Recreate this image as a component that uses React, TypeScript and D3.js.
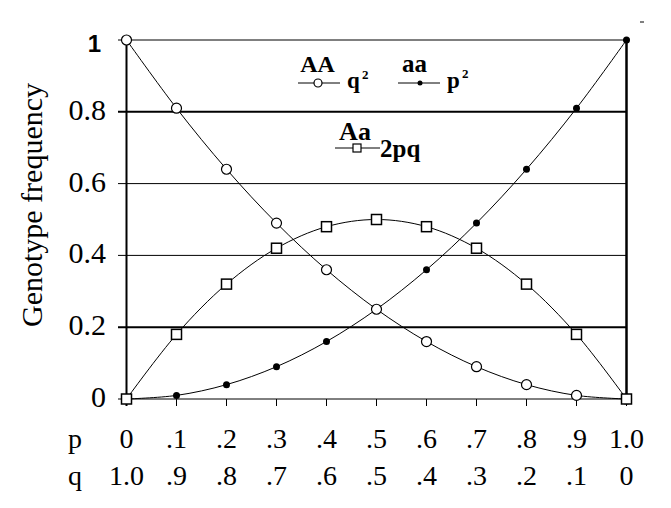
import React from "react";
import * as d3 from "d3";

const pValues = [0, 0.1, 0.2, 0.3, 0.4, 0.5, 0.6, 0.7, 0.8, 0.9, 1.0];
const pLabels = ["0", ".1", ".2", ".3", ".4", ".5", ".6", ".7", ".8", ".9", "1.0"];
const qLabels = ["1.0", ".9", ".8", ".7", ".6", ".5", ".4", ".3", ".2", ".1", "0"];
const AA = [1.0, 0.81, 0.64, 0.49, 0.36, 0.25, 0.16, 0.09, 0.04, 0.01, 0.0];
const aa = [0.0, 0.01, 0.04, 0.09, 0.16, 0.25, 0.36, 0.49, 0.64, 0.81, 1.0];
const Aa = [0.0, 0.18, 0.32, 0.42, 0.48, 0.5, 0.48, 0.42, 0.32, 0.18, 0.0];
const yTicks = [0, 0.2, 0.4, 0.6, 0.8, 1];
const yTickLabels = ["0", "0.2", "0.4", "0.6", "0.8", "1"];
const thickGrid = [0.2, 0.8];

const serif = "Liberation Serif";
const sans = "Liberation Sans";

export default function App() {
  const W = 671, H = 508;
  const x = d3.scaleLinear().domain([0, 1]).range([126.5, 626.5]);
  const y = d3.scaleLinear().domain([0, 1]).range([399, 40]);
  const line = d3
    .line<number>()
    .x((_, i) => x(pValues[i]))
    .y((d) => y(d))
    .curve(d3.curveCatmullRom.alpha(0.5));

  const st = { fontFamily: serif };
  const stb = { fontFamily: serif, fontWeight: 700 };
  return (
    <svg
      width={W}
      height={H}
      style={{ position: "absolute", left: 0, top: 0, background: "#fff" }}
    >
      <rect x={0} y={0} width={W} height={H} fill="#fff" />
      {yTicks.map((t) => (
        <line
          key={"g" + t}
          x1={118}
          x2={x(1)}
          y1={y(t)}
          y2={y(t)}
          stroke="#000"
          strokeWidth={thickGrid.includes(t) ? 2 : 1}
        />
      ))}
      <line x1={x(0)} x2={x(0)} y1={y(1)} y2={y(0) + 7} stroke="#000" strokeWidth={2} />
      <line x1={x(1)} x2={x(1)} y1={y(1)} y2={y(0)} stroke="#000" strokeWidth={2.5} />
      {pValues.map((p) => (
        <line key={"xt" + p} x1={x(p)} x2={x(p)} y1={y(0)} y2={y(0) + 7} stroke="#000" strokeWidth={1} />
      ))}
      {yTicks.map((t, i) =>
        t === 1 ? (
          <text key={"yl" + t} x={101} y={y(t) + 12} textAnchor="end" style={{ fontFamily: sans, fontWeight: 700 }} fontSize={24}>
            {yTickLabels[i]}
          </text>
        ) : (
          <text key={"yl" + t} x={106} y={y(t) + 8} textAnchor="end" style={st} fontSize={30}>
            {yTickLabels[i]}
          </text>
        )
      )}
      <text
        transform={`translate(42, 205) rotate(-90)`}
        textAnchor="middle"
        style={st}
        fontSize={30}
      >
        Genotype frequency
      </text>
      <text x={75} y={448} textAnchor="middle" style={st} fontSize={28}>p</text>
      <text x={75} y={485} textAnchor="middle" style={st} fontSize={28}>q</text>
      {pValues.map((p, i) => (
        <text key={"pl" + i} x={x(p)} y={448} textAnchor="middle" style={st} fontSize={28}>
          {pLabels[i]}
        </text>
      ))}
      {pValues.map((p, i) => (
        <text key={"ql" + i} x={x(p)} y={485} textAnchor="middle" style={st} fontSize={28}>
          {qLabels[i]}
        </text>
      ))}
      <path d={line(AA) || ""} fill="none" stroke="#000" strokeWidth={1} />
      <path d={line(aa) || ""} fill="none" stroke="#000" strokeWidth={1} />
      <path d={line(Aa) || ""} fill="none" stroke="#000" strokeWidth={1} />
      {aa.map((v, i) => (
        <circle key={"d" + i} cx={x(pValues[i])} cy={y(v)} r={3.5} fill="#000" />
      ))}
      {AA.map((v, i) => (
        <circle key={"c" + i} cx={x(pValues[i])} cy={y(v)} r={5} fill="#fff" stroke="#000" strokeWidth={1.2} />
      ))}
      {Aa.map((v, i) => (
        <rect key={"s" + i} x={x(pValues[i]) - 5} y={y(v) - 5} width={10} height={10} fill="#fff" stroke="#000" strokeWidth={1.5} />
      ))}
      <text x={317.5} y={72} textAnchor="middle" style={stb} fontSize={24}>AA</text>
      <line x1={298} x2={340} y1={83} y2={83} stroke="#000" strokeWidth={1} />
      <circle cx={318} cy={83} r={4} fill="#fff" stroke="#000" strokeWidth={1.2} />
      <text x={347} y={88} style={stb} fontSize={23}>q</text>
      <text x={362} y={79} style={stb} fontSize={13}>2</text>

      <text x={414.5} y={72} textAnchor="middle" style={stb} fontSize={25}>aa</text>
      <line x1={398} x2={440} y1={83} y2={83} stroke="#000" strokeWidth={1} />
      <circle cx={420} cy={83} r={2.5} fill="#000" />
      <text x={447} y={88} style={stb} fontSize={23}>p</text>
      <text x={462} y={78} style={stb} fontSize={13}>2</text>

      <text x={355} y={140} textAnchor="middle" style={stb} fontSize={26}>Aa</text>
      <line x1={335} x2={380} y1={148} y2={148} stroke="#000" strokeWidth={1} />
      <rect x={353} y={144} width={8} height={8} fill="#fff" stroke="#000" strokeWidth={1.2} />
      <text x={380} y={157} style={stb} fontSize={25}>2pq</text>
      <line x1={640} x2={644} y1={22} y2={22} stroke="#000" strokeWidth={1} />
    </svg>
  );
}
